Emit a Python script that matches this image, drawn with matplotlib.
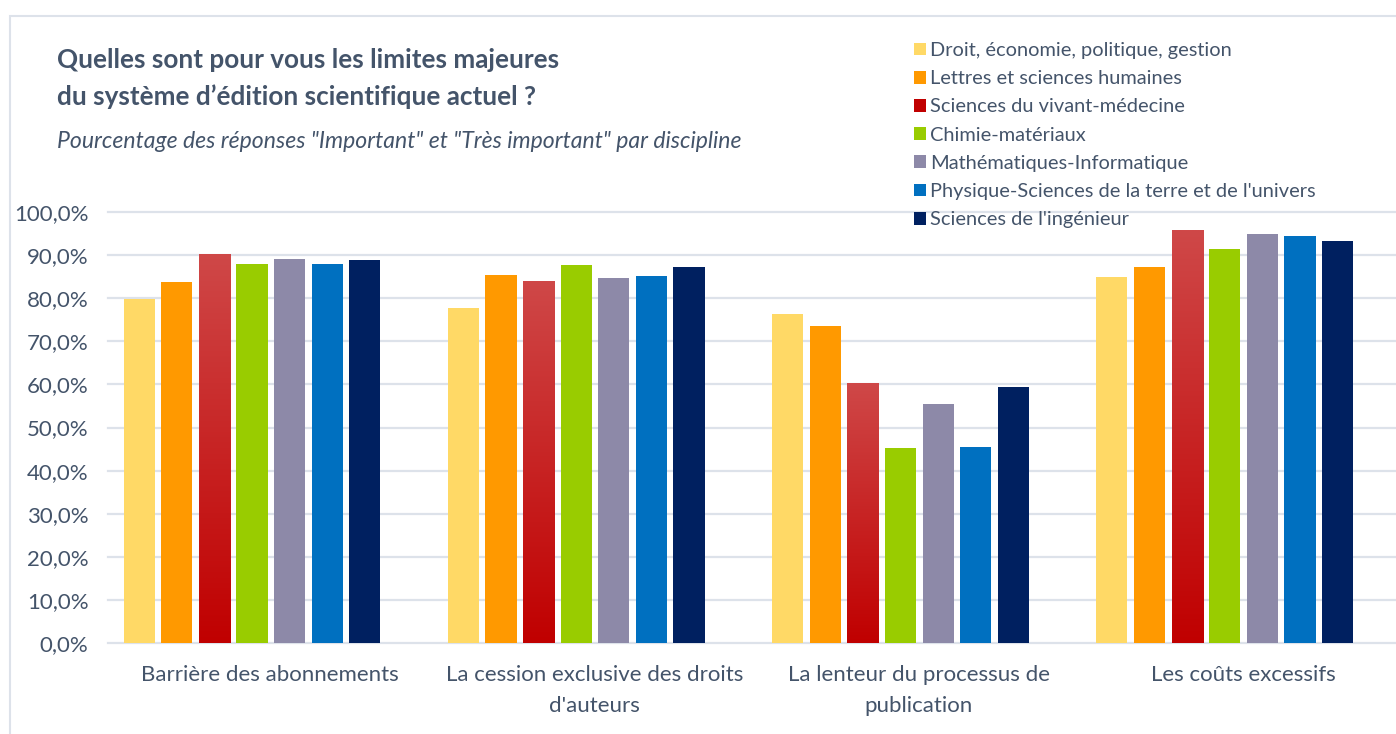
import numpy as np
import matplotlib
matplotlib.use("Agg")
import matplotlib.pyplot as plt
from matplotlib.patches import Rectangle
from matplotlib.ticker import FuncFormatter

plt.rcParams['font.family'] = ['Lato', 'DejaVu Sans']

categories = ["Barrière des abonnements",
              "La cession exclusive des droits\nd'auteurs",
              "La lenteur du processus de\npublication",
              "Les coûts excessifs"]

disciplines = ["Droit, économie, politique, gestion",
               "Lettres et sciences humaines",
               "Sciences du vivant-médecine",
               "Chimie-matériaux",
               "Mathématiques-Informatique",
               "Physique-Sciences de la terre et de l'univers",
               "Sciences de l'ingénieur"]

droit = [79.8, 77.7, 76.3, 84.9]
lettres = [83.8, 85.4, 73.5, 87.2]
vivant = [90.3, 84.0, 60.3, 95.8]
chimie = [87.9, 87.7, 45.2, 91.4]
maths = [89.1, 84.7, 55.5, 94.9]
physique = [87.9, 85.2, 45.5, 94.4]
ingenieur = [88.9, 87.2, 59.4, 93.3]

series = [droit, lettres, vivant, chimie, maths, physique, ingenieur]
colors = ["#FFD966", "#FF9900", "#C00000", "#99CC00", "#8D89A8", "#0070C0", "#002060"]

text_col = "#44546A"
grid_col = "#DDE2EA"

fig = plt.figure(figsize=(13.96, 7.34), dpi=100)
ax = fig.add_axes([108 / 1396, 1 - 643 / 734, 1 - 108 / 1396, (643 - 212) / 734])

x = np.arange(len(categories))
step = 0.116
width = 0.096
# bars sit a little left of the category label centre
offsets = (np.arange(len(series)) - 3) * step - 0.056

handles = []
for i, (vals, col) in enumerate(zip(series, colors)):
    bars = ax.bar(x + offsets[i], vals, width, color=col, zorder=3, label=disciplines[i])
    handles.append(bars)
    if i == 2:
        # red bars have a vertical gradient, lighter at top
        grad = np.linspace(0, 1, 256).reshape(-1, 1)
        cmap = matplotlib.colors.LinearSegmentedColormap.from_list("rg", ["#C00000", "#CF4848"])
        for b in bars:
            bx = b.get_x()
            im = ax.imshow(grad, extent=[bx, bx + b.get_width(), 0, b.get_height()],
                           origin="lower", cmap=cmap, aspect="auto", zorder=4)
            im.set_clip_path(b)

ax.set_xlim(-0.5, 3.5 - 9 / 324)
ax.set_ylim(0, 100)
ax.set_yticks(np.arange(0, 101, 10))
ax.yaxis.set_major_formatter(FuncFormatter(lambda v, p: f"{v:.1f}%".replace(".", ",")))
ax.grid(axis="y", color=grid_col, linewidth=1.6, zorder=0)
for ln in ax.get_ygridlines():
    ln.set_clip_on(False)
for s in ax.spines.values():
    s.set_visible(False)
ax.tick_params(axis="both", length=0, colors=text_col, labelsize=16)
ax.tick_params(axis="y", pad=14)
ax.tick_params(axis="x", pad=16)
ax.set_xticks(x)
ax.set_xticklabels(categories, linespacing=1.7)

# outer frame
fig.add_artist(Rectangle((10 / 1396, -0.1), 1.1, 1 - 16 / 734 + 0.1, transform=fig.transFigure,
                         fill=False, edgecolor="#DDE2EA", linewidth=1.5))

fig.text(57 / 1396, 1 - 60 / 734, "Quelles sont pour vous les limites majeures",
         fontsize=18.8, fontweight="bold", color=text_col, va="center")
fig.text(57 / 1396, 1 - 97 / 734, "du système d’édition scientifique actuel ?",
         fontsize=18.8, fontweight="bold", color=text_col, va="center")
fig.text(57 / 1396, 1 - 141 / 734,
         "Pourcentage des réponses \"Important\" et \"Très important\" par discipline",
         fontsize=16.6, style="italic", color=text_col, va="center")

leg = fig.legend(handles=handles, loc="upper left", bbox_to_anchor=(904 / 1396, 1 - 32 / 734),
                 frameon=False, fontsize=14.4, handlelength=0.6, handleheight=0.6,
                 handletextpad=0.2, labelspacing=0.56, labelcolor=text_col, borderpad=0)

fig.savefig("out.png", dpi=100, facecolor="white")
